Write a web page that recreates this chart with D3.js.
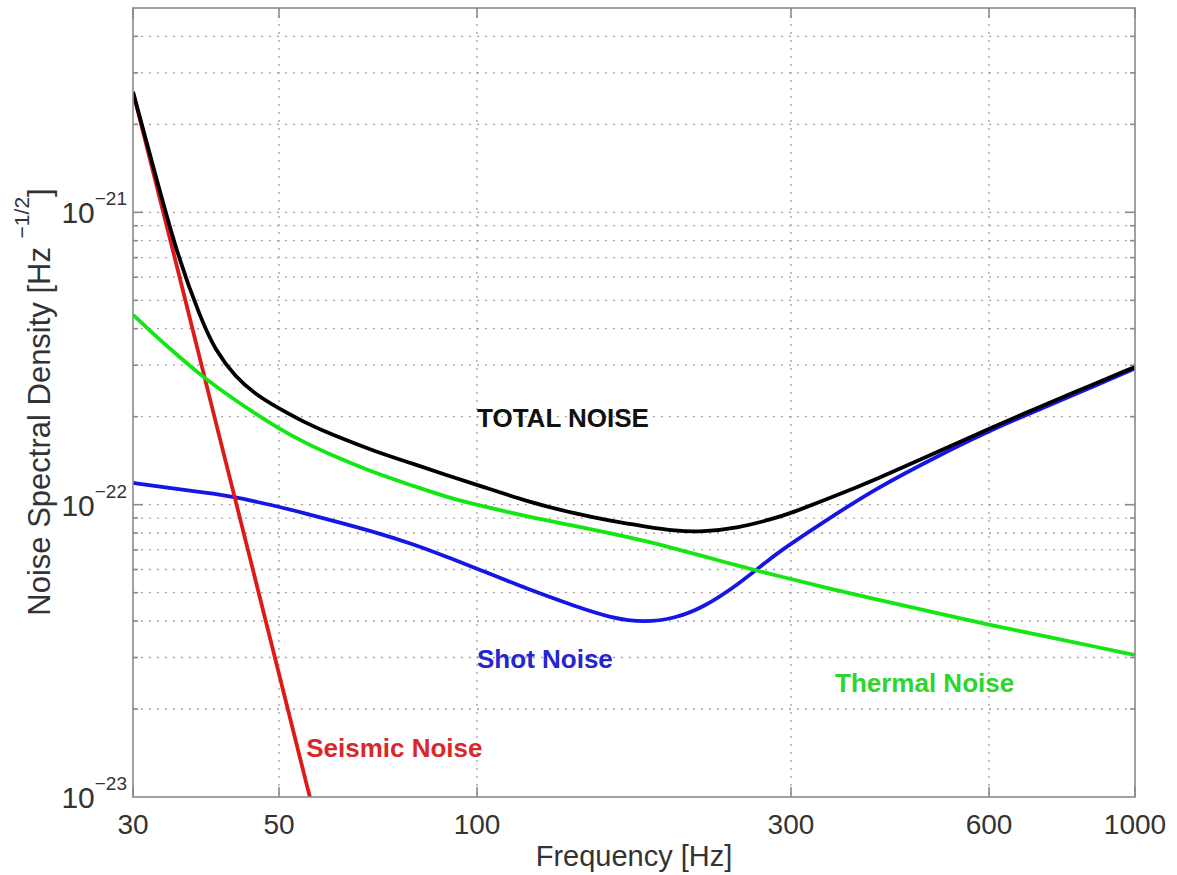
<!DOCTYPE html>
<html>
<head>
<meta charset="utf-8">
<script src="https://cdn.jsdelivr.net/npm/d3@7"></script>
<style>
    body { margin: 0; background: #fff; }
    svg { display: block; }
    text { font-family: "Liberation Sans", Arial, Helvetica, sans-serif; }
</style>
</head>
<body>
<svg id="graph" width="1177" height="875"></svg>
<script>
// frequency grid (Hz) the curves were read at
var freqs = [30, 32, 35, 38, 40, 43, 46, 50, 55, 60, 70, 80, 90, 100, 120, 140, 160, 180, 200, 220, 250, 280, 300, 350, 400, 500, 600, 700, 800, 1000];

var totalNoise = [2.58e-21, 1.51e-21, 7.15e-22, 4.35e-22, 3.37e-22, 2.72e-22, 2.39e-22, 2.13e-22, 1.90e-22, 1.74e-22, 1.52e-22, 1.38e-22, 1.26e-22, 1.17e-22, 1.02e-22, 9.35e-23, 8.78e-23, 8.42e-23, 8.13e-23, 8.07e-23, 8.34e-23, 8.91e-23, 9.35e-23, 1.07e-22, 1.21e-22, 1.51e-22, 1.82e-22, 2.11e-22, 2.40e-22, 2.96e-22];

var thermalNoise = [4.46e-22, 3.89e-22, 3.25e-22, 2.78e-22, 2.55e-22, 2.27e-22, 2.05e-22, 1.82e-22, 1.62e-22, 1.48e-22, 1.28e-22, 1.16e-22, 1.06e-22, 9.98e-23, 9.08e-23, 8.48e-23, 7.98e-23, 7.52e-23, 7.07e-23, 6.68e-23, 6.17e-23, 5.78e-23, 5.57e-23, 5.11e-23, 4.77e-23, 4.26e-23, 3.88e-23, 3.62e-23, 3.40e-23, 3.06e-23];

var shotNoise = [1.187e-22, 1.164e-22, 1.133e-22, 1.105e-22, 1.088e-22, 1.060e-22, 1.025e-22, 9.84e-23, 9.31e-23, 8.85e-23, 8.06e-23, 7.33e-23, 6.63e-23, 6.04e-23, 5.12e-23, 4.52e-23, 4.09e-23, 3.95e-23, 4.09e-23, 4.43e-23, 5.35e-23, 6.59e-23, 7.36e-23, 9.24e-23, 1.122e-22, 1.464e-22, 1.787e-22, 2.076e-22, 2.354e-22, 2.924e-22];

// seismic is a straight line in log-log, read on its own grid
var seismicFreqs = [30, 35, 40, 45, 50, 55, 58];
var seismicNoise = [2.58e-21, 6.5e-22, 1.95e-22, 6.8e-23, 2.64e-23, 1.12e-23, 7.0e-24];

var xTicks = [30, 50, 100, 300, 600, 1000];
var yDecades = [1e-23, 1e-22, 1e-21];
var yExponents = ["\u221223", "\u221222", "\u221221"];

var annotations = [
    {text: "TOTAL NOISE", f: 100, v: 1.85e-22, color: "#111"},
    {text: "Shot Noise", f: 100, v: 2.76e-23, color: "#2626d0"},
    {text: "Thermal Noise", f: 350, v: 2.29e-23, color: "#2cd62c"},
    {text: "Seismic Noise", f: 55, v: 1.37e-23, color: "#d82828"}
];

// plot box in page pixels ("top" is taken by window.top)
var plotL = 133, plotR = 1135, plotT = 8, plotB = 797;

var x = d3.scaleLog().domain([30, 1000]).range([plotL, plotR]);
var y = d3.scaleLog().domain([1e-23, 5e-21]).range([plotB, plotT]);

var fig = d3.select("#graph");

// minor log values for horizontal grid and ticks
var yMinor = [];
yDecades.forEach(function(d) {
    for (var m = 1; m <= 9; m++) {
        var v = d * m;
        if (v > 1e-23 * 1.001 && v < 5e-21 * 0.999) yMinor.push(v);
    }
});

var grid = fig.append("g").attr("class", "grid")
    .attr("stroke", "#a0a0a0")
    .attr("stroke-width", 1.3)
    .attr("stroke-dasharray", "2,6");

grid.selectAll(".hg").data(yMinor).enter().append("line")
    .attr("x1", plotL).attr("x2", plotR)
    .attr("y1", function(d) { return y(d); })
    .attr("y2", function(d) { return y(d); });

grid.selectAll(".vg").data(xTicks.slice(1, -1)).enter().append("line")
    .attr("y1", plotT).attr("y2", plotB)
    .attr("x1", function(d) { return x(d); })
    .attr("x2", function(d) { return x(d); });

// curves
fig.append("clipPath").attr("id", "plotClip")
    .append("rect")
    .attr("x", plotL).attr("y", plotT)
    .attr("width", plotR - plotL).attr("height", plotB - plotT);

var curves = fig.append("g").attr("clip-path", "url(#plotClip)");

// basis smooths out the small reading errors
var smooth = d3.line()
    .x(function(d) { return x(d[0]); })
    .y(function(d) { return y(d[1]); })
    .curve(d3.curveBasis);

var straight = d3.line()
    .x(function(d) { return x(d[0]); })
    .y(function(d) { return y(d[1]); });

var pair = function(fs, vs) {
    return fs.map(function(f, i) { return [f, vs[i]]; });
};

var series = [
    {data: pair(freqs, shotNoise), color: "#1515e6", line: smooth},
    {data: pair(seismicFreqs, seismicNoise), color: "#dd1a1a", line: straight},
    {data: pair(freqs, thermalNoise), color: "#14e614", line: smooth},
    {data: pair(freqs, totalNoise), color: "#000", line: smooth}
];

curves.selectAll("path").data(series).enter().append("path")
    .attr("d", function(d) { return d.line(d.data); })
    .attr("fill", "none")
    .attr("stroke", function(d) { return d.color; })
    .attr("stroke-width", 3.8)
    .attr("stroke-linejoin", "round");

// frame and tick marks
var axes = fig.append("g").attr("stroke", "#8a8a8a").attr("stroke-width", 1.6);

axes.append("rect")
    .attr("x", plotL).attr("y", plotT)
    .attr("width", plotR - plotL).attr("height", plotB - plotT)
    .attr("fill", "none");

xTicks.forEach(function(t) {
    axes.append("line").attr("x1", x(t)).attr("x2", x(t)).attr("y1", plotB).attr("y2", plotB - 10);
    axes.append("line").attr("x1", x(t)).attr("x2", x(t)).attr("y1", plotT).attr("y2", plotT + 10);
});

yMinor.forEach(function(v) {
    var major = yDecades.some(function(d) { return Math.abs(v / d - 1) < 1e-6; });
    var len = major ? 10 : 5;
    axes.append("line").attr("x1", plotL).attr("x2", plotL + len).attr("y1", y(v)).attr("y2", y(v));
    axes.append("line").attr("x1", plotR).attr("x2", plotR - len).attr("y1", y(v)).attr("y2", y(v));
});

// tick labels
fig.append("g").selectAll("text").data(xTicks).enter().append("text")
    .attr("x", function(d) { return x(d); })
    .attr("y", plotB + 37)
    .attr("text-anchor", "middle")
    .attr("font-size", 28)
    .attr("fill", "#333")
    .text(function(d) { return d; });

var yLabels = fig.append("g").selectAll("text").data(yDecades).enter().append("text")
    .attr("x", plotL - 6)
    .attr("y", function(d) { return y(d) + 11; })
    .attr("text-anchor", "end")
    .attr("fill", "#333");
yLabels.append("tspan").attr("font-size", 30).text("10");
yLabels.append("tspan").attr("font-size", 19).attr("dy", -18)
    .text(function(d, i) { return yExponents[i]; });

// axis titles
fig.append("text")
    .attr("x", (plotL + plotR) / 2)
    .attr("y", 866)
    .attr("text-anchor", "middle")
    .attr("font-size", 29)
    .attr("fill", "#333")
    .text("Frequency [Hz]");

var yTitle = fig.append("text")
    .attr("transform", "translate(50," + 402 + ") rotate(-90)")
    .attr("text-anchor", "middle")
    .attr("font-size", 31)
    .attr("fill", "#333");
yTitle.append("tspan").text("Noise Spectral Density  [Hz  ");
yTitle.append("tspan").attr("font-size", 21).attr("dy", -21).text("\u22121/2");
yTitle.append("tspan").attr("dy", 21).text("]");

// curve labels
fig.append("g").selectAll("text").data(annotations).enter().append("text")
    .attr("x", function(d) { return x(d.f); })
    .attr("y", function(d) { return y(d.v); })
    .attr("font-size", 26)
    .attr("font-weight", "bold")
    .attr("fill", function(d) { return d.color; })
    .text(function(d) { return d.text; });
</script>
</body>
</html>
